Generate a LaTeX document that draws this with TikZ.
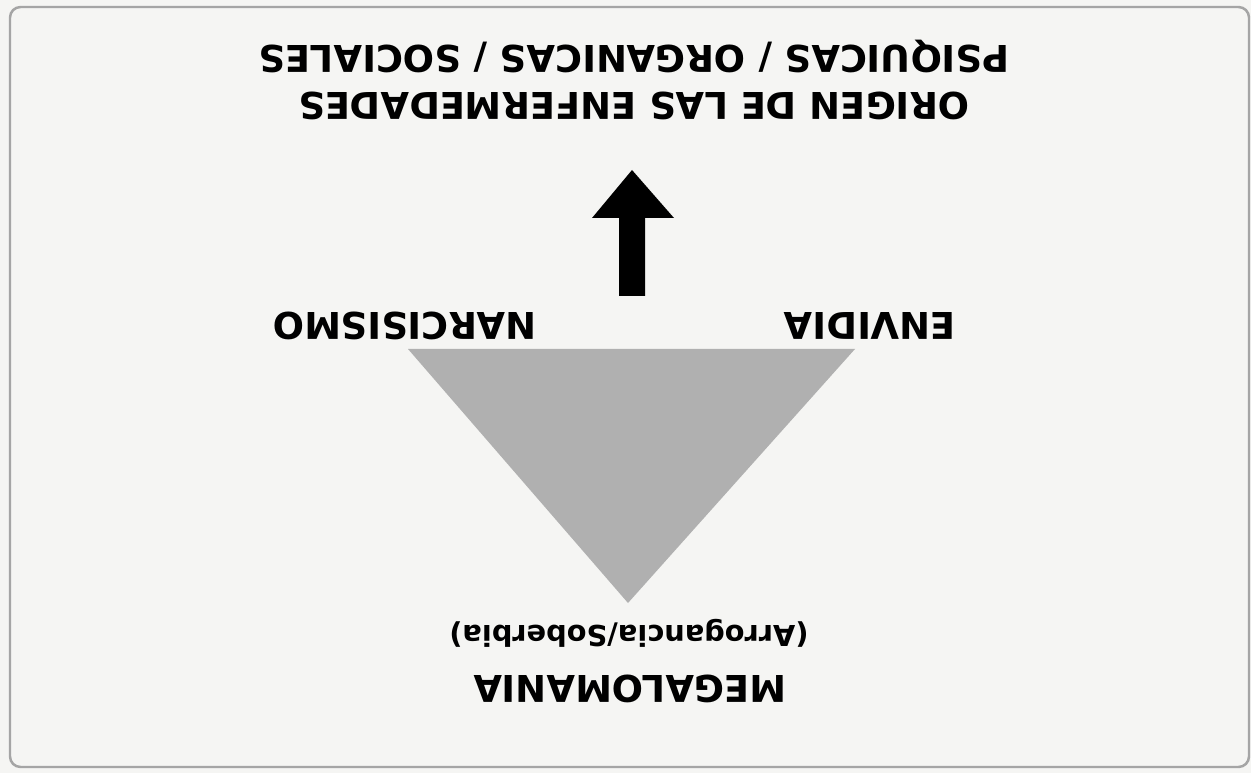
\documentclass[tikz,border=0pt]{standalone}
\usepackage{fontspec}
\setmainfont{DejaVu Sans}
\usetikzlibrary{positioning}
\definecolor{paper}{RGB}{245,245,243}
\definecolor{framegray}{RGB}{165,165,165}
\definecolor{trigray}{RGB}{176,176,176}

\begin{document}
\begin{tikzpicture}[
  x=0.02cm,y=-0.02cm,
  font=\bfseries,
  lbl/.style={rotate=180,inner sep=0pt,align=center,font=\fontsize{21}{27}\selectfont\bfseries},
  sublbl/.style={rotate=180,inner sep=0pt,font=\fontsize{16.4}{20}\selectfont\bfseries},
]
  % paper and frame
  \fill[paper] (0,0) rectangle (1251,773);
  \useasboundingbox (0,0) rectangle (1251,773);
  \draw[framegray,line width=1.4pt,rounded corners=6pt] (10,7) rectangle (1249,767);

  % title
  \node[lbl] (title) at (634,80)
    {ORIGEN DE LAS ENFERMEDADES\\PSIQUICAS / ORGANICAS / SOCIALES};

  % arrow
  \fill[black] (619,296) -- (619,218) -- (592,218) -- (632,170)
    -- (674,218) -- (645,218) -- (645,296) -- cycle;
  \coordinate (arrowtip) at (632,170);

  % triangle
  \coordinate (narc) at (408,349);
  \coordinate (envi) at (855,349);
  \coordinate (mega) at (628,603);
  \fill[trigray] (narc) -- (envi) -- (mega) -- cycle;

  \node[lbl] (n) at (405,326) {NARCISISMO};
  \node[lbl] (e) at (870,326) {ENVIDIA};
  \node[sublbl] (sub) at (629,633) {(Arrogancia/Soberbia)};
  \node[lbl] (m) at (630,689) {MEGALOMANIA};
\end{tikzpicture}
\end{document}
